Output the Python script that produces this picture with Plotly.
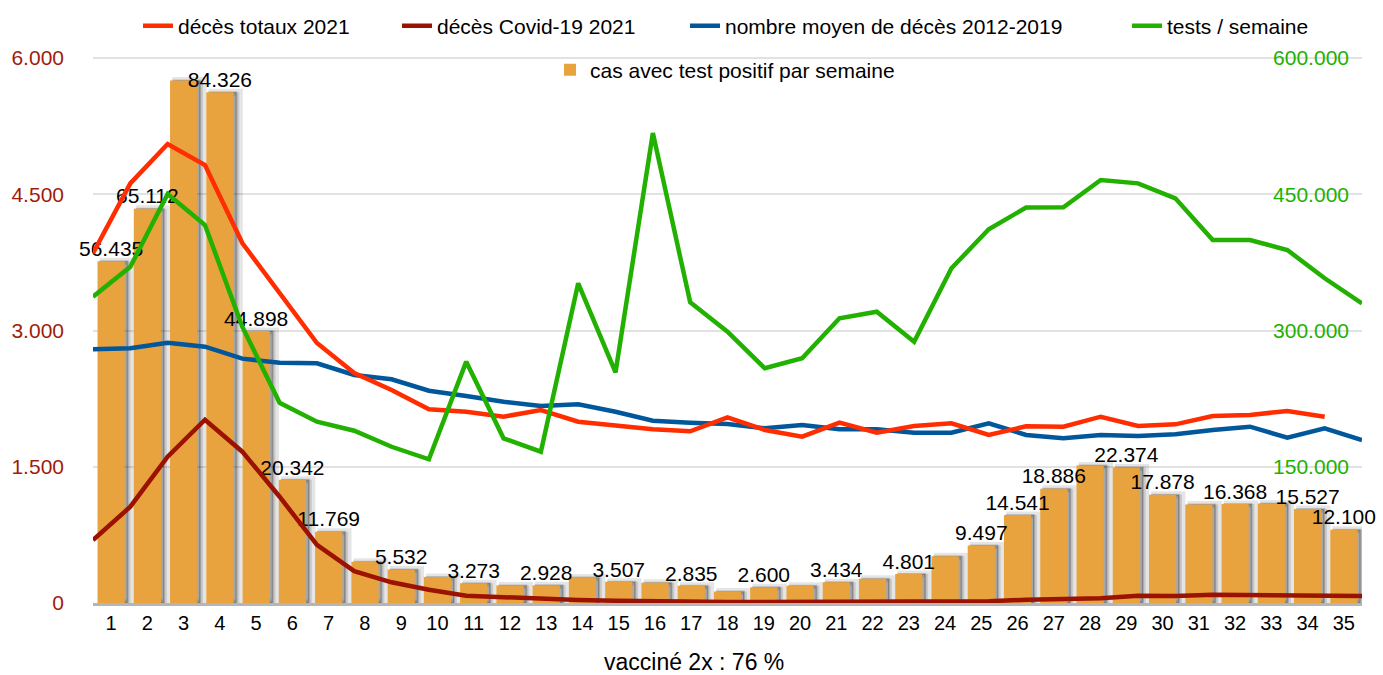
import plotly.graph_objects as go

# ---------------- data ----------------
weeks = list(range(1, 36))

cas_positifs = [56435, 65112, 86300, 84326, 44898, 20342, 11769, 6800, 5532, 4300,
                3273, 2900, 2928, 4200, 3507, 3350, 2835, 1900, 2600, 2850,
                3434, 4000, 4801, 7700, 9497, 14541, 18886, 22700, 22374, 17878,
                16250, 16368, 16420, 15527, 12100]
labelled_weeks = [1, 2, 4, 5, 6, 7, 9, 11, 13, 15, 17, 19, 21, 23, 25, 26, 27, 29, 30, 32, 34, 35]

weeks_totaux = list(range(1, 35))
deces_totaux_2021 = [3850, 4620, 5053, 4822, 3963, 3413, 2862, 2532, 2345, 2132,
                     2106, 2051, 2125, 1996, 1960, 1912, 1890, 2044, 1905, 1831,
                     1985, 1875, 1949, 1978, 1850, 1945, 1941, 2051, 1949, 1967,
                     2059, 2070, 2114, 2051]

deces_covid_2021 = [694, 1060, 1611, 2018, 1666, 1170, 639, 350, 228, 145,
                    80, 65, 42, 33, 26, 18, 12, 10, 10, 10,
                    8, 10, 12, 15, 20, 35, 45, 52, 80, 78,
                    92, 88, 75, 76, 76]

deces_moyen_2012_2019 = [2793, 2804, 2866, 2822, 2690, 2646, 2639, 2510, 2463, 2337,
                         2279, 2216, 2169, 2187, 2106, 2007, 1985, 1971, 1923, 1960,
                         1912, 1912, 1875, 1875, 1978, 1850, 1813, 1850, 1838, 1857,
                         1905, 1941, 1820, 1923, 1794]

tests_semaine = [337200, 370200, 450300, 416100, 304200, 220500, 199600, 189700, 172000, 158200,
                 265700, 181300, 166600, 351900, 254000, 517400, 331000, 298700, 258400, 269400,
                 313400, 320700, 287700, 368500, 411400, 435400, 435600, 465700, 462000, 445500,
                 399600, 399600, 388600, 357500, 329900]

left_ticks = [0, 1500, 3000, 4500, 6000]
right_ticks = [150000, 300000, 450000, 600000]
x_title = "vacciné 2x : 76 %"

names = {
    "bars": "cas avec test positif par semaine",
    "tot": "décès totaux 2021",
    "cov": "décès Covid-19 2021",
    "moy": "nombre moyen de décès 2012-2019",
    "tests": "tests / semaine",
}

# ---------------- styling ----------------
FONT = "Liberation Sans, Arial, sans-serif"
C_BAR = "#e8a33e"
C_RED = "#ff2d00"
C_DRED = "#9b1200"
C_BLUE = "#00579b"
C_GREEN = "#22b100"
C_LEFT = "#a01c0c"

# plot area: 6000 gridline at y=58px, baseline at y=603px; extra headroom so
# the top right tick label fits inside the plot area
PLOT_PX = 545
HEAD_PX = 14
k = (PLOT_PX + HEAD_PX) / PLOT_PX


def fmt(v):
    return f"{v:,}".replace(",", ".")


bar_text = [fmt(v) if w in labelled_weeks else "" for w, v in zip(weeks, cas_positifs)]

fig = go.Figure()

# soft shadow behind bars
fig.add_trace(go.Bar(x=weeks, y=cas_positifs, xaxis="x", yaxis="y",
                     width=0.75, offset=-0.375 + 0.16,
                     marker=dict(color="rgba(0,0,0,0.12)",
                                 line=dict(color="rgba(0,0,0,0.10)", width=7)),
                     showlegend=False, hoverinfo="skip"))
fig.add_trace(go.Bar(x=weeks, y=cas_positifs, xaxis="x", yaxis="y",
                     width=0.75, offset=-0.375 + 0.08,
                     marker=dict(color="rgba(0,0,0,0.25)",
                                 line=dict(color="rgba(0,0,0,0.18)", width=2)),
                     showlegend=False, hoverinfo="skip"))
# bars
fig.add_trace(go.Bar(x=weeks, y=cas_positifs, xaxis="x", yaxis="y",
                     width=0.75, offset=-0.375,
                     marker=dict(color=C_BAR, line=dict(width=0)),
                     name=names["bars"], legend="legend5"))
# value labels drawn above all bars
fig.add_trace(go.Scatter(x=weeks, y=cas_positifs, xaxis="x", yaxis="y",
                         mode="text", text=bar_text, textposition="top center",
                         cliponaxis=False, showlegend=False, hoverinfo="skip",
                         textfont=dict(family=FONT, size=21, color="#000000")))

# lines
fig.add_trace(go.Scatter(x=weeks, y=deces_moyen_2012_2019, xaxis="x2", yaxis="y2",
                         mode="lines", line=dict(color=C_BLUE, width=4.5),
                         name=names["moy"], legend="legend3"))
fig.add_trace(go.Scatter(x=weeks_totaux, y=deces_totaux_2021, xaxis="x2", yaxis="y2",
                         mode="lines", line=dict(color=C_RED, width=4.5),
                         name=names["tot"], legend="legend"))
fig.add_trace(go.Scatter(x=weeks, y=deces_covid_2021, xaxis="x2", yaxis="y2",
                         mode="lines", line=dict(color=C_DRED, width=4.5),
                         name=names["cov"], legend="legend2"))
fig.add_trace(go.Scatter(x=weeks, y=tests_semaine, xaxis="x2", yaxis="y3",
                         mode="lines", line=dict(color=C_GREEN, width=4.5),
                         name=names["tests"], legend="legend4"))

W, H = 1383, 675


def leg(px, py):
    return dict(orientation="h", xref="container", yref="container",
                x=px / W, y=1 - py / H, xanchor="left", yanchor="middle",
                bgcolor="rgba(0,0,0,0)", font=dict(family=FONT, size=21, color="#000000"))


fig.update_layout(
    width=W, height=H,
    margin=dict(l=93, r=21, t=58 - HEAD_PX, b=72, autoexpand=False),
    paper_bgcolor="white", plot_bgcolor="white",
    separators=",.",
    barmode="overlay",
    font=dict(family=FONT, color="#000000"),
    legend=leg(138, 26),
    legend2=leg(397, 26),
    legend3=leg(685, 26),
    legend4=leg(1127, 26),
    legend5=leg(550, 70),
    xaxis=dict(range=[0.5, 35.5], tickmode="array", tickvals=weeks,
               ticktext=[str(w) for w in weeks], showgrid=False, zeroline=False,
               showline=True, linecolor="#b5b5b5", linewidth=3, ticks="",
               tickfont=dict(family=FONT, size=20, color="#000000")),
    xaxis2=dict(range=[1, 35], overlaying="x", visible=False),
    yaxis=dict(range=[0, 90000 * k], visible=False, showgrid=False, zeroline=False),
    yaxis2=dict(range=[0, 6000 * k], overlaying="y", side="left", tickmode="array",
                tickvals=left_ticks, tickformat=",d", showgrid=True,
                gridcolor="#e2e2e2", gridwidth=2, zeroline=False, showline=False,
                ticks="", ticklabelstandoff=28,
                tickfont=dict(family=FONT, size=21, color=C_LEFT)),
    yaxis3=dict(range=[0, 600000 * k], overlaying="y", side="right", tickmode="array",
                tickvals=right_ticks, tickformat=",d", showgrid=False, zeroline=False,
                showline=False, ticks="", ticklabelposition="inside",
                ticklabelstandoff=10,
                tickfont=dict(family=FONT, size=21, color=C_GREEN)),
    annotations=[dict(text=x_title, xref="paper", yref="paper",
                      x=(694 - 93) / 1269, y=(603 - 662) / (PLOT_PX + HEAD_PX),
                      xanchor="center", yanchor="middle", showarrow=False,
                      font=dict(family=FONT, size=23, color="#000000"))],
)

fig.write_html("out.html",
               config={"displayModeBar": False},
               post_script="document.body.style.margin='0px';"
                           "document.body.style.overflow='hidden';")
